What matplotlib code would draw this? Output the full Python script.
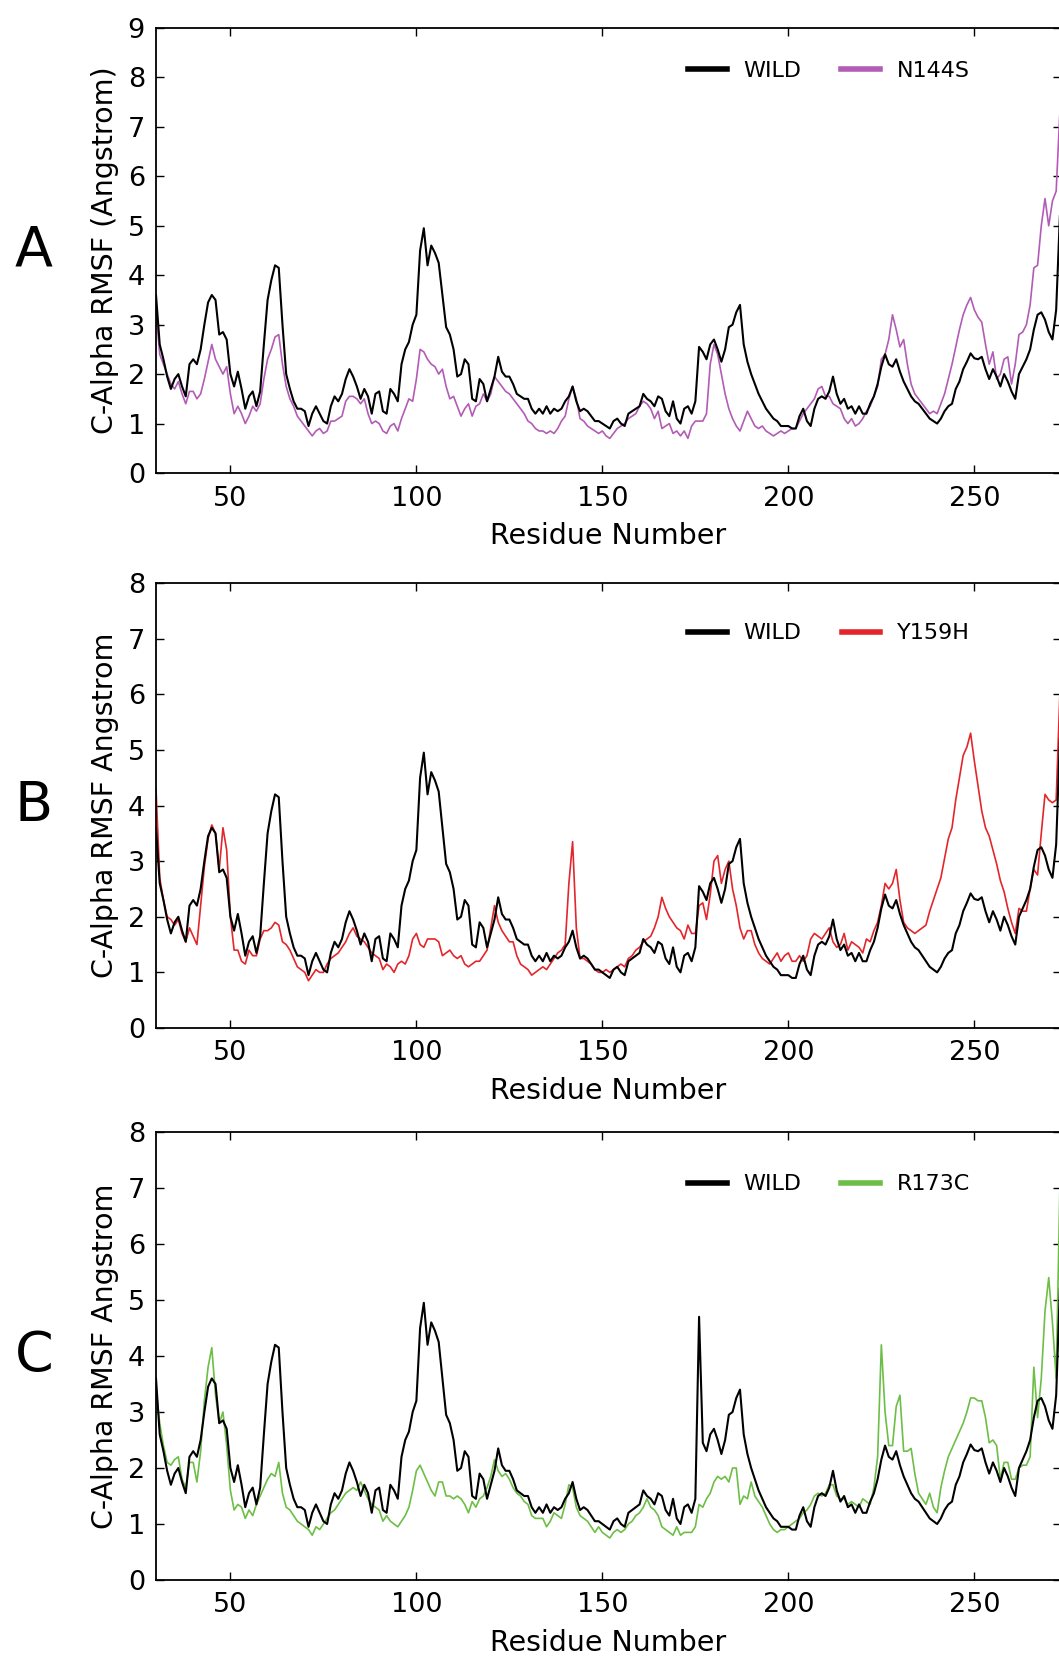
"""C-alpha RMSF per residue: wild type vs three mutants (panels A-C)."""
import matplotlib
matplotlib.use("Agg")
import matplotlib.pyplot as plt
import numpy as np

residues = np.arange(30, 274)

wild = [
    3.6, 2.6, 2.3, 1.95, 1.7, 1.9, 2.0, 1.75, 1.55, 2.2,        # 30
    2.3, 2.2, 2.5, 3.0, 3.45, 3.6, 3.5, 2.8, 2.85, 2.7,         # 40
    2.0, 1.75, 2.05, 1.7, 1.3, 1.55, 1.65, 1.35, 1.65, 2.6,     # 50
    3.5, 3.9, 4.2, 4.15, 3.0, 2.0, 1.7, 1.45, 1.3, 1.3,         # 60
    1.25, 0.95, 1.2, 1.35, 1.2, 1.05, 1.0, 1.35, 1.55, 1.45,    # 70
    1.6, 1.9, 2.1, 1.95, 1.75, 1.5, 1.7, 1.55, 1.2, 1.6,        # 80
    1.65, 1.25, 1.2, 1.7, 1.6, 1.45, 2.2, 2.5, 2.65, 3.0,       # 90
    3.2, 4.5, 4.95, 4.2, 4.6, 4.45, 4.25, 3.6, 2.95, 2.8,       # 100
    2.5, 1.95, 2.0, 2.3, 2.2, 1.5, 1.45, 1.9, 1.8, 1.45,        # 110
    1.7, 1.95, 2.35, 2.05, 1.95, 1.95, 1.8, 1.6, 1.55, 1.5,     # 120
    1.5, 1.3, 1.2, 1.3, 1.2, 1.35, 1.2, 1.3, 1.25, 1.3,         # 130
    1.45, 1.55, 1.75, 1.45, 1.25, 1.3, 1.25, 1.15, 1.05, 1.05,  # 140
    1.0, 0.95, 0.9, 1.05, 1.1, 1.0, 0.95, 1.2, 1.25, 1.3,       # 150
    1.35, 1.6, 1.5, 1.45, 1.35, 1.55, 1.5, 1.25, 1.15, 1.45,    # 160
    1.1, 1.0, 1.3, 1.35, 1.2, 1.45, 2.55, 2.45, 2.3, 2.6,       # 170
    2.7, 2.5, 2.25, 2.5, 2.95, 3.0, 3.25, 3.4, 2.6, 2.25,       # 180
    2.0, 1.8, 1.6, 1.45, 1.3, 1.2, 1.1, 1.05, 0.95, 0.95,       # 190
    0.95, 0.9, 0.9, 1.15, 1.3, 1.05, 0.95, 1.3, 1.5, 1.55,      # 200
    1.5, 1.65, 1.95, 1.6, 1.4, 1.5, 1.3, 1.35, 1.2, 1.35,       # 210
    1.2, 1.2, 1.4, 1.55, 1.8, 2.15, 2.4, 2.2, 2.15, 2.3,        # 220
    2.05, 1.85, 1.7, 1.55, 1.45, 1.4, 1.3, 1.2, 1.1, 1.05,      # 230
    1.0, 1.1, 1.25, 1.35, 1.4, 1.7, 1.85, 2.1, 2.25, 2.42,      # 240
    2.32, 2.3, 2.35, 2.1, 1.9, 2.1, 1.95, 1.75, 2.0, 1.85,      # 250
    1.65, 1.5, 2.0, 2.15, 2.3, 2.5, 2.9, 3.2, 3.25, 3.1,        # 260
    2.85, 2.7, 3.3, 5.2,                                        # 270
]

# the wild-type trace in panel C carries a single spike at residue 176
wild_c = list(wild)
wild_c[176 - 30] = 4.7

n144s = [
    3.3, 2.4, 2.2, 2.0, 1.8, 1.7, 1.85, 1.6, 1.4, 1.65,         # 30
    1.65, 1.5, 1.6, 1.9, 2.25, 2.6, 2.3, 2.15, 2.0, 2.15,       # 40
    1.6, 1.2, 1.35, 1.2, 1.0, 1.15, 1.35, 1.25, 1.4, 1.9,       # 50
    2.3, 2.5, 2.75, 2.8, 2.2, 1.75, 1.5, 1.35, 1.15, 1.05,      # 60
    0.95, 0.85, 0.75, 0.85, 0.9, 0.8, 0.85, 1.05, 1.05, 1.1,    # 70
    1.15, 1.45, 1.55, 1.55, 1.5, 1.4, 1.5, 1.2, 1.0, 1.05,      # 80
    1.0, 0.85, 0.8, 0.95, 1.0, 0.85, 1.1, 1.3, 1.5, 1.45,       # 90
    1.9, 2.5, 2.45, 2.3, 2.2, 2.15, 2.0, 2.1, 1.75, 1.5,        # 100
    1.55, 1.35, 1.15, 1.3, 1.4, 1.15, 1.35, 1.4, 1.6, 1.45,     # 110
    1.6, 1.95, 1.85, 1.75, 1.65, 1.6, 1.5, 1.4, 1.3, 1.2,       # 120
    1.05, 1.0, 0.9, 0.85, 0.85, 0.8, 0.85, 0.8, 0.9, 1.05,      # 130
    1.15, 1.5, 1.75, 1.5, 1.1, 1.05, 0.95, 0.9, 0.85, 0.8,      # 140
    0.85, 0.75, 0.7, 0.8, 0.9, 0.95, 1.0, 1.1, 1.15, 1.2,       # 150
    1.35, 1.45, 1.4, 1.3, 1.1, 1.25, 0.9, 0.95, 1.0, 0.8,       # 160
    0.85, 0.75, 0.85, 0.7, 0.95, 1.05, 1.05, 1.05, 1.2, 2.2,    # 170
    2.6, 2.4, 2.0, 1.6, 1.3, 1.1, 0.95, 0.85, 1.05, 1.25,       # 180
    1.1, 0.95, 0.9, 0.95, 0.85, 0.8, 0.75, 0.8, 0.85, 0.8,      # 190
    0.85, 0.9, 0.9, 1.05, 1.2, 1.3, 1.4, 1.5, 1.7, 1.75,        # 200
    1.55, 1.55, 1.4, 1.35, 1.3, 1.1, 1.0, 1.1, 0.95, 1.0,       # 210
    1.1, 1.25, 1.35, 1.55, 1.75, 2.3, 2.4, 2.7, 3.2, 2.9,       # 220
    2.55, 2.7, 2.2, 1.8, 1.6, 1.5, 1.4, 1.3, 1.2, 1.25,         # 230
    1.2, 1.4, 1.6, 1.9, 2.2, 2.55, 2.9, 3.2, 3.4, 3.55,         # 240
    3.3, 3.15, 3.05, 2.6, 2.2, 2.45, 1.9, 2.0, 2.3, 2.35,       # 250
    1.8, 2.2, 2.8, 2.85, 3.0, 3.4, 4.15, 4.2, 5.0, 5.55,        # 260
    5.0, 5.5, 5.7, 7.3,                                         # 270
]

y159h = [
    4.3, 2.7, 2.3, 2.0, 1.95, 1.85, 1.95, 1.7, 1.55, 1.8,       # 30
    1.65, 1.5, 2.2, 2.9, 3.4, 3.65, 3.5, 2.85, 3.6, 3.2,        # 40
    2.0, 1.4, 1.4, 1.2, 1.15, 1.4, 1.3, 1.3, 1.6, 1.75,         # 50
    1.75, 1.8, 1.9, 1.85, 1.55, 1.5, 1.4, 1.25, 1.1, 1.05,      # 60
    1.0, 0.85, 0.95, 1.05, 1.0, 1.0, 1.15, 1.25, 1.3, 1.35,     # 70
    1.45, 1.55, 1.7, 1.8, 1.65, 1.6, 1.55, 1.45, 1.35, 1.3,     # 80
    1.25, 1.05, 1.15, 1.1, 1.0, 1.15, 1.2, 1.15, 1.3, 1.6,      # 90
    1.7, 1.5, 1.45, 1.6, 1.6, 1.6, 1.55, 1.3, 1.35, 1.4,        # 100
    1.3, 1.25, 1.3, 1.15, 1.1, 1.15, 1.2, 1.2, 1.3, 1.4,        # 110
    1.8, 2.2, 1.9, 1.75, 1.65, 1.55, 1.55, 1.3, 1.15, 1.1,      # 120
    1.05, 0.95, 1.0, 1.05, 1.1, 1.05, 1.15, 1.25, 1.35, 1.4,    # 130
    1.5, 2.6, 3.35, 1.8, 1.25, 1.25, 1.2, 1.15, 1.05, 1.0,      # 140
    1.0, 1.05, 1.0, 1.05, 1.1, 1.15, 1.1, 1.25, 1.3, 1.4,       # 150
    1.45, 1.55, 1.6, 1.65, 1.8, 2.0, 2.35, 2.15, 2.0, 1.9,      # 160
    1.8, 1.75, 1.6, 1.85, 1.7, 1.7, 2.2, 2.25, 1.95, 2.4,       # 170
    3.0, 3.1, 2.6, 2.85, 3.0, 2.5, 2.2, 1.8, 1.6, 1.75,         # 180
    1.75, 1.5, 1.35, 1.25, 1.2, 1.15, 1.25, 1.35, 1.2, 1.3,     # 190
    1.35, 1.2, 1.2, 1.3, 1.2, 1.3, 1.6, 1.7, 1.65, 1.6,         # 200
    1.7, 1.8, 1.55, 1.45, 1.5, 1.7, 1.4, 1.55, 1.5, 1.45,       # 210
    1.35, 1.6, 1.55, 1.75, 1.9, 2.2, 2.6, 2.5, 2.6, 2.85,       # 220
    2.3, 1.9, 1.8, 1.75, 1.7, 1.75, 1.8, 1.85, 2.1, 2.3,        # 230
    2.5, 2.7, 3.05, 3.4, 3.6, 4.1, 4.5, 4.9, 5.05, 5.3,         # 240
    4.8, 4.35, 3.9, 3.6, 3.45, 3.2, 2.95, 2.65, 2.45, 2.15,     # 250
    1.9, 1.7, 2.15, 2.1, 2.1, 2.5, 2.85, 2.75, 3.5, 4.2,        # 260
    4.1, 4.05, 4.1, 6.0,                                        # 270
]

r173c = [
    3.4, 2.8, 2.4, 2.1, 2.05, 2.15, 2.2, 1.8, 1.65, 2.1,        # 30
    2.1, 1.75, 2.3, 3.2, 3.8, 4.15, 3.3, 2.8, 3.0, 2.4,         # 40
    1.6, 1.25, 1.35, 1.3, 1.1, 1.25, 1.15, 1.35, 1.5, 1.65,     # 50
    1.8, 1.9, 1.85, 2.1, 1.55, 1.3, 1.25, 1.15, 1.05, 1.0,      # 60
    0.95, 0.9, 0.8, 0.95, 0.9, 1.0, 1.1, 1.2, 1.25, 1.35,       # 70
    1.45, 1.55, 1.6, 1.65, 1.6, 1.75, 1.6, 1.45, 1.35, 1.3,     # 80
    1.25, 1.05, 1.15, 1.05, 1.0, 0.95, 1.05, 1.15, 1.3, 1.6,    # 90
    1.95, 2.05, 1.9, 1.75, 1.6, 1.5, 1.75, 1.75, 1.5, 1.5,      # 100
    1.45, 1.5, 1.45, 1.35, 1.2, 1.4, 1.3, 1.45, 1.5, 1.65,      # 110
    1.85, 2.15, 1.95, 1.85, 1.9, 1.8, 1.65, 1.55, 1.5, 1.4,     # 120
    1.35, 1.15, 1.1, 1.1, 1.1, 0.95, 1.05, 1.2, 1.15, 1.1,      # 130
    1.35, 1.7, 1.65, 1.3, 1.15, 1.1, 1.05, 0.95, 0.85, 0.95,    # 140
    0.85, 0.8, 0.75, 0.85, 0.9, 0.85, 0.9, 1.0, 1.05, 1.15,     # 150
    1.2, 1.3, 1.45, 1.3, 1.25, 1.15, 0.95, 0.9, 0.85, 0.8,      # 160
    0.95, 0.8, 0.85, 0.85, 0.85, 0.95, 1.35, 1.3, 1.45, 1.55,   # 170
    1.75, 1.85, 1.8, 1.85, 1.75, 2.0, 2.0, 1.35, 1.5, 1.45,     # 180
    1.75, 1.5, 1.4, 1.3, 1.15, 1.0, 0.9, 0.85, 0.9, 0.9,        # 190
    0.95, 1.0, 1.05, 1.1, 1.2, 1.25, 1.35, 1.5, 1.55, 1.5,      # 200
    1.55, 1.7, 1.7, 1.5, 1.45, 1.45, 1.35, 1.4, 1.35, 1.3,      # 210
    1.45, 1.4, 1.35, 1.65, 2.2, 4.2, 3.0, 2.4, 2.4, 3.1,        # 220
    3.3, 2.3, 2.3, 2.35, 1.9, 1.55, 1.45, 1.35, 1.55, 1.3,      # 230
    1.2, 1.65, 1.95, 2.2, 2.35, 2.5, 2.65, 2.8, 3.0, 3.25,      # 240
    3.25, 3.2, 3.2, 2.9, 2.45, 2.5, 2.4, 1.8, 2.1, 2.1,         # 250
    1.8, 1.8, 2.0, 2.05, 2.05, 2.2, 3.8, 2.9, 3.6, 4.8,         # 260
    5.4, 4.6, 3.6, 7.0,                                         # 270
]

panel_letters = ["A", "B", "C"]
mutant_names = ["N144S", "Y159H", "R173C"]
mutant_colors = ["#B25CB5", "#E3262B", "#6DBE46"]
ylabels = ["C-Alpha RMSF (Angstrom)", "C-Alpha RMSF Angstrom", "C-Alpha RMSF Angstrom"]
ymax = [9, 8, 8]

W, H = 1059, 1661
# axes boxes in pixels: (top, bottom); right edge sits just past the crop
boxes = [(28, 473), (583, 1028), (1132, 1580)]
LEFT, RIGHT = 156, 1061
legend_y = [0.903, 0.887, 0.883]


def build():
    plt.rcParams["font.family"] = "DejaVu Sans"
    fig = plt.figure(figsize=(W / 100, H / 100), dpi=100)

    for i in range(3):
        top, bot = boxes[i]
        ax = fig.add_axes([LEFT / W, 1 - bot / H, (RIGHT - LEFT) / W, (bot - top) / H])
        w = wild_c if i == 2 else wild
        mut = [n144s, y159h, r173c][i]
        ax.plot(residues, w, color="black", lw=1.5, label="WILD", zorder=3)
        ax.plot(residues, mut, color=mutant_colors[i], lw=1.2, label=mutant_names[i], zorder=2)

        ax.set_xlim(30, 273.3)
        ax.set_ylim(0, ymax[i])
        ax.set_xticks([50, 100, 150, 200, 250])
        ax.set_yticks(range(0, ymax[i] + 1))
        ax.tick_params(direction="in", top=True, right=True, length=6, width=1,
                       labelsize=19.5)
        ax.tick_params(axis="x", pad=9)
        ax.tick_params(axis="y", pad=8)
        for s in ax.spines.values():
            s.set_linewidth(1.3)

        ax.set_xlabel("Residue Number", fontsize=20.5)
        ax.xaxis.set_label_coords(0.5, -49 / (bot - top))
        ax.set_ylabel(ylabels[i], fontsize=20.5)
        ax.yaxis.set_label_coords(-37 / (RIGHT - LEFT), 0.5)

        leg = ax.legend(loc="center", bbox_to_anchor=(0.7436, legend_y[i]), ncol=2,
                        frameon=False, fontsize=16, handlelength=1.75,
                        handletextpad=0.75, columnspacing=1.8)
        for line in leg.get_lines():
            line.set_linewidth(4)

        fig.text(34 / W, 1 - (top + bot) / 2 / H, panel_letters[i], fontsize=40,
                 ha="center", va="center")

    fig.savefig("out.png", dpi=100)
    plt.close(fig)


if __name__ == "__main__":
    build()
